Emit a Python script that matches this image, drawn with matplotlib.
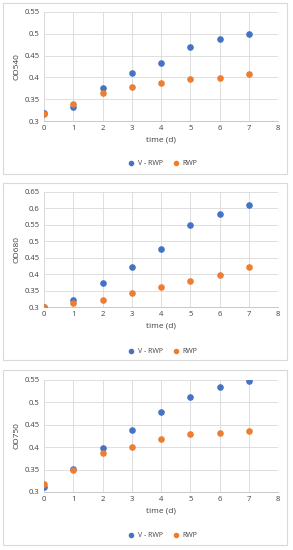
import matplotlib.pyplot as plt
from matplotlib.patches import Rectangle

days = [0, 1, 2, 3, 4, 5, 6, 7]

od540_v = [0.318, 0.333, 0.376, 0.409, 0.433, 0.469, 0.487, 0.500]
od540_r = [0.315, 0.338, 0.364, 0.377, 0.388, 0.396, 0.399, 0.407]

od680_v = [0.300, 0.320, 0.374, 0.421, 0.476, 0.549, 0.584, 0.609]
od680_r = [0.300, 0.312, 0.322, 0.343, 0.361, 0.380, 0.398, 0.422]

od750_v = [0.311, 0.352, 0.399, 0.439, 0.479, 0.511, 0.534, 0.547]
od750_r = [0.318, 0.348, 0.386, 0.401, 0.419, 0.430, 0.432, 0.437]

panels = [
    ("OD540", od540_v, od540_r, 0.55, [0.3, 0.35, 0.4, 0.45, 0.5, 0.55]),
    ("OD680", od680_v, od680_r, 0.65, [0.3, 0.35, 0.4, 0.45, 0.5, 0.55, 0.6, 0.65]),
    ("OD750", od750_v, od750_r, 0.55, [0.3, 0.35, 0.4, 0.45, 0.5, 0.55]),
]

W, H = 293, 550
blue = "#4472C4"
orange = "#ED7D31"
plt.rcParams["font.family"] = ["Open Sans", "DejaVu Sans"]

fig = plt.figure(figsize=(W / 100, H / 100), dpi=100)
fig.patch.set_facecolor("white")

# pixel layout: (box top, box bottom, plot top, plot bottom)
boxes = [(3, 174, 12, 121), (183, 360, 192, 307), (370, 545, 380, 492)]
px_left, px_right = 44, 278

def tick_fmt(v):
    s = ("%.2f" % v).rstrip("0").rstrip(".")
    return s

for (name, v, r, ymax, yt), (bt, bb, pt, pb) in zip(panels, boxes):
    fig.patches.append(Rectangle((3 / W, 1 - bb / H), 284 / W, (bb - bt) / H,
                                 transform=fig.transFigure, fill=False,
                                 edgecolor="#D9D9D9", linewidth=0.8))
    ax = fig.add_axes([px_left / W, 1 - pb / H, (px_right - px_left) / W, (pb - pt) / H])
    ax.scatter(days, v, s=14, color=blue, label="V - RWP", zorder=3)
    ax.scatter(days, r, s=14, color=orange, label="RWP", zorder=3)
    ax.set_xlim(0, 8)
    ax.set_ylim(0.3, ymax)
    ax.set_xticks(range(9))
    ax.set_yticks(yt)
    ax.set_yticklabels([tick_fmt(t) for t in yt])
    ax.grid(True, color="#D9D9D9", linewidth=0.6)
    ax.set_axisbelow(True)
    for s in ["top", "right"]:
        ax.spines[s].set_visible(False)
    ax.spines["left"].set_color("#D9D9D9")
    ax.spines["bottom"].set_color("#BFBFBF")
    ax.spines["left"].set_linewidth(0.6)
    ax.spines["bottom"].set_linewidth(0.6)
    ax.tick_params(length=0, labelsize=5.5, colors="#404040", pad=3)
    ax.set_xlabel("time (d)", fontsize=6, color="#404040", labelpad=3)
    ax.set_ylabel(name, fontsize=6, color="#404040", labelpad=3)
    ax.legend(loc="upper center", bbox_to_anchor=(0.5, -0.3), ncol=2, frameon=False,
              fontsize=5, handletextpad=0.0, columnspacing=0.8, markerscale=0.8,
              labelcolor="#404040")

fig.savefig("out.png", dpi=100)
